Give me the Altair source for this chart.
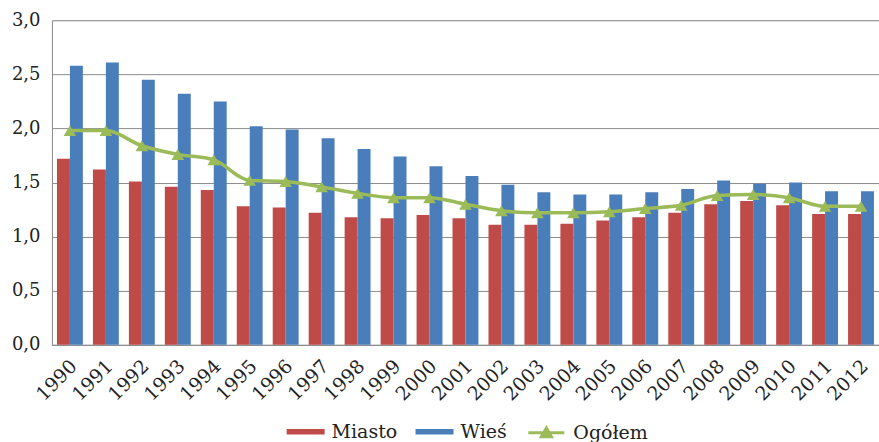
import altair as alt
import pandas as pd

years = [str(y) for y in range(1990, 2013)]
miasto = [1.72, 1.62, 1.51, 1.46, 1.43, 1.28, 1.27, 1.22, 1.18, 1.17, 1.20, 1.17,
          1.11, 1.11, 1.12, 1.15, 1.18, 1.22, 1.30, 1.33, 1.29, 1.21, 1.21]
wies = [2.58, 2.61, 2.45, 2.32, 2.25, 2.02, 1.99, 1.91, 1.81, 1.74, 1.65, 1.56,
        1.48, 1.41, 1.39, 1.39, 1.41, 1.44, 1.52, 1.49, 1.50, 1.42, 1.42]
ogolem = [1.98, 1.98, 1.84, 1.76, 1.71, 1.52, 1.51, 1.46, 1.40, 1.36, 1.36, 1.30,
          1.24, 1.22, 1.22, 1.23, 1.26, 1.29, 1.38, 1.39, 1.36, 1.28, 1.28]
bar_series = ["Miasto", "Wieś"]
line_series = ["Ogółem"]
y_ticks = [0, 0.5, 1.0, 1.5, 2.0, 2.5, 3.0]

RED = "#BE4B48"
BLUE = "#4A7EBB"
GREEN = "#9BBB59"
GRID = "#8C8C8C"
TXT = "#222222"
FONT = "'DejaVu Serif', 'Liberation Serif', serif"

df_bars = pd.DataFrame(
    [{"rok": y, "seria": "Miasto", "wartosc": v} for y, v in zip(years, miasto)]
    + [{"rok": y, "seria": "Wieś", "wartosc": v} for y, v in zip(years, wies)]
)
df_line = pd.DataFrame({"rok": years, "nazwa": "Ogółem", "wartosc": ogolem})

x_enc = alt.X(
    "rok:N", sort=years, title=None,
    scale=alt.Scale(paddingInner=0.28, paddingOuter=0.14),
    axis=alt.Axis(labelAngle=-45, labelAlign="right", labelBaseline="middle",
                  labelPadding=18, labelOffset=4, ticks=False, domainColor=GRID, grid=False,
                  labelFont=FONT, labelFontSize=19, labelColor=TXT),
)
y_enc = alt.Y(
    "wartosc:Q", title=None, scale=alt.Scale(domain=[0, 3], nice=False),
    axis=alt.Axis(values=y_ticks, labelExpr="replace(format(datum.value, '.1f'), '.', ',')",
                  ticks=False, grid=True, gridColor=GRID, gridWidth=1, domainColor=GRID,
                  labelPadding=12, labelFont=FONT, labelFontSize=18, labelColor=TXT),
)

bars = alt.Chart(df_bars).mark_bar().encode(
    x=x_enc,
    xOffset=alt.XOffset("seria:N", sort=bar_series,
                        scale=alt.Scale(paddingInner=0, paddingOuter=0)),
    y=y_enc,
    color=alt.Color(
        "seria:N",
        scale=alt.Scale(domain=bar_series, range=[RED, BLUE]),
        legend=alt.Legend(orient="none", legendX=235, legendY=393, direction="horizontal",
                          title=None, symbolType="M-1,-0.14H1V0.14H-1Z", symbolSize=1444,
                          symbolStrokeWidth=0, labelOffset=7, columnPadding=18,
                          labelFont=FONT, labelFontSize=19, labelColor=TXT),
    ),
)

line = alt.Chart(df_line).mark_line(interpolate="monotone", strokeWidth=3.5).encode(
    x=alt.X("rok:N", sort=years),
    y="wartosc:Q",
    stroke=alt.Stroke(
        "nazwa:N",
        scale=alt.Scale(domain=line_series, range=[GREEN]),
        legend=alt.Legend(orient="none", legendX=475, legendY=393, direction="horizontal",
                          title=None, symbolType="M-1,0H1M-0.28,0.22L0,-0.26L0.28,0.22Z",
                          symbolSize=1300, symbolStrokeWidth=3, symbolFillColor=GREEN,
                          labelOffset=7, labelFont=FONT, labelFontSize=19, labelColor=TXT),
    ),
)

points = alt.Chart(df_line).mark_point(shape="triangle-up", filled=True, size=160,
                                       opacity=1, color=GREEN).encode(
    x=alt.X("rok:N", sort=years),
    y="wartosc:Q",
)

chart = alt.layer(bars, line, points).properties(
    width=828, height=325,
    padding={"left": 52, "top": 20, "right": 0, "bottom": 97},
    autosize=alt.AutoSizeParams(type="none"),
).configure_view(fill="#EDEEEE", stroke=GRID, strokeWidth=1).configure(background="white")

chart.save("out.html", embed_options={"renderer": "svg", "actions": False})
